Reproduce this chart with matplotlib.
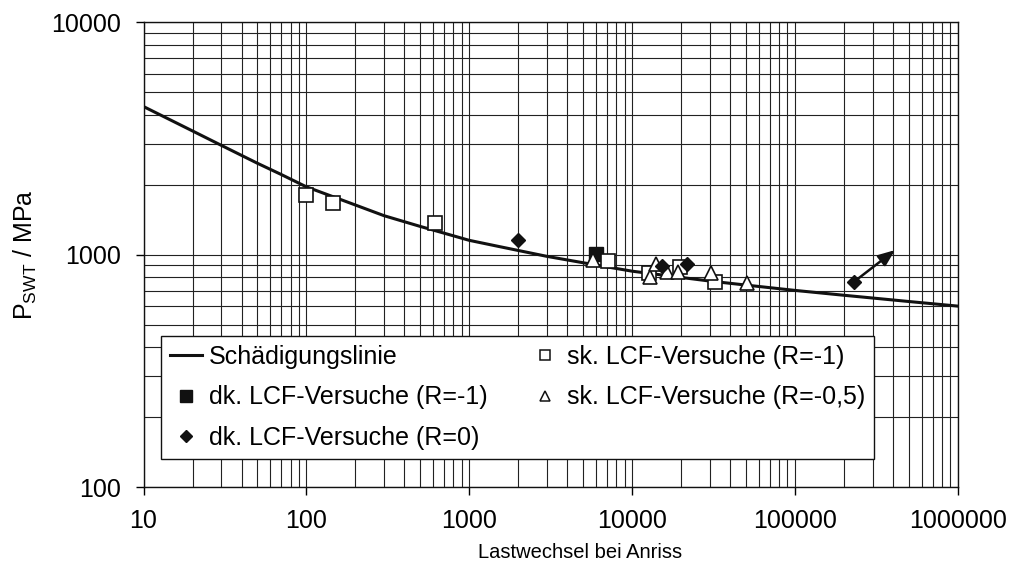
import numpy as np
import matplotlib
matplotlib.use('Agg')
import matplotlib.pyplot as plt
from matplotlib import ticker
from matplotlib.lines import Line2D

plt.rcParams['font.family'] = ['Liberation Sans', 'DejaVu Sans']

# Schaedigungslinie
curve_n = [10, 20, 30, 50, 70, 100, 150, 200, 300, 500, 700, 1000, 1500, 2000,
           3000, 5000, 7000, 10000, 20000, 30000, 50000, 100000, 200000, 500000, 1000000]
curve_p = [4330, 3400, 2950, 2470, 2210, 1955, 1760, 1633, 1469, 1321, 1236, 1151, 1085, 1041,
           982, 922, 885, 848, 797, 769, 739, 701, 668, 628, 600]

# dk. LCF-Versuche (R=-1)
dk_r1_n = [6000]
dk_r1_p = [1010]

# dk. LCF-Versuche (R=0)
dk_r0_n = [2000, 15350, 21650, 231000]
dk_r0_p = [1150, 895, 908, 764]

# sk. LCF-Versuche (R=-1)
sk_r1_n = [100, 145, 620, 7150, 12760, 19680, 32300]
sk_r1_p = [1800, 1670, 1363, 937, 836, 886, 764]

# sk. LCF-Versuche (R=-0,5)
sk_r05_n = [5730, 12900, 14030, 16460, 19200, 30400, 51000]
sk_r05_p = [947, 798, 910, 843, 843, 836, 752]

# run-out arrow
arrow_start = (231000, 764)
arrow_end = (412000, 1045)

fs = 18
fig = plt.figure(figsize=(10.12, 5.75), dpi=100)
ax = fig.add_axes([0.1418, 0.1530, 0.8046, 0.8087])

ax.set_xscale('log')
ax.set_yscale('log')
ax.set_xlim(10, 1e6)
ax.set_ylim(100, 10000)

ax.grid(True, which='both', color='#222222', linewidth=0.8)
ax.set_axisbelow(True)

ax.plot(curve_n, curve_p, color='#111111', linewidth=2.2, zorder=3)

ms = 9.5
ax.plot(dk_r1_n, dk_r1_p, 's', color='#111111', markersize=ms, linestyle='none', zorder=4)
ax.plot(sk_r1_n, sk_r1_p, 's', markerfacecolor='white', markeredgecolor='#111111',
        markeredgewidth=1.2, markersize=ms, linestyle='none', zorder=5)
ax.plot(sk_r05_n, sk_r05_p, '^', markerfacecolor='white', markeredgecolor='#111111',
        markeredgewidth=1.2, markersize=ms + 1, linestyle='none', zorder=5)
ax.plot(dk_r0_n, dk_r0_p, 'D', color='#111111', markersize=ms - 2, linestyle='none', zorder=6)

ax.annotate('', xy=arrow_end, xytext=arrow_start,
            arrowprops=dict(arrowstyle='-|>,head_length=1.0,head_width=0.4',
                            color='#111111', lw=1.8, shrinkA=0, shrinkB=0),
            zorder=6)

ax.xaxis.set_major_locator(ticker.LogLocator(base=10, numticks=10))
ax.xaxis.set_major_formatter(ticker.FuncFormatter(lambda v, p: '%d' % round(v)))
ax.yaxis.set_major_formatter(ticker.FuncFormatter(lambda v, p: '%d' % round(v)))
ax.xaxis.set_minor_formatter(ticker.NullFormatter())
ax.yaxis.set_minor_formatter(ticker.NullFormatter())
ax.tick_params(which='major', direction='out', length=6, width=1, labelsize=fs, pad=10)
ax.tick_params(which='minor', length=0)
for s in ax.spines.values():
    s.set_color('#111111')
    s.set_linewidth(1)

ax.set_xlabel('Lastwechsel bei Anriss', fontsize=14.5)
ax.xaxis.set_label_coords(0.536, -0.12)
ax.set_ylabel(r'P$_\mathregular{SWT}$ / MPa', fontsize=fs, labelpad=9)

# legend handles with the sizes used in the legend box
handles = [
    Line2D([], [], color='#111111', linewidth=2.2),
    Line2D([], [], marker='s', color='#111111', markersize=8.5, linestyle='none'),
    Line2D([], [], marker='D', color='#111111', markersize=6.5, linestyle='none'),
    Line2D([], [], marker='s', markerfacecolor='white', markeredgecolor='#111111',
           markeredgewidth=1.1, markersize=7, linestyle='none'),
    Line2D([], [], marker='^', markerfacecolor='white', markeredgecolor='#111111',
           markeredgewidth=1.1, markersize=7.5, linestyle='none'),
]
labels = ['Schädigungslinie', 'dk. LCF-Versuche (R=-1)', 'dk. LCF-Versuche (R=0)',
          'sk. LCF-Versuche (R=-1)', 'sk. LCF-Versuche (R=-0,5)']

leg = ax.legend(handles, labels, ncol=2, loc='upper left',
                bbox_to_anchor=(0.0215, 0.3247), borderaxespad=0, fontsize=fs,
                frameon=True, fancybox=False, edgecolor='#111111', framealpha=1,
                handlelength=1.3, handletextpad=0.25,
                columnspacing=1.65, labelspacing=0.66, borderpad=0.35)
leg.get_frame().set_linewidth(1)
leg.set_zorder(10)

fig.savefig('out.png', dpi=100)
